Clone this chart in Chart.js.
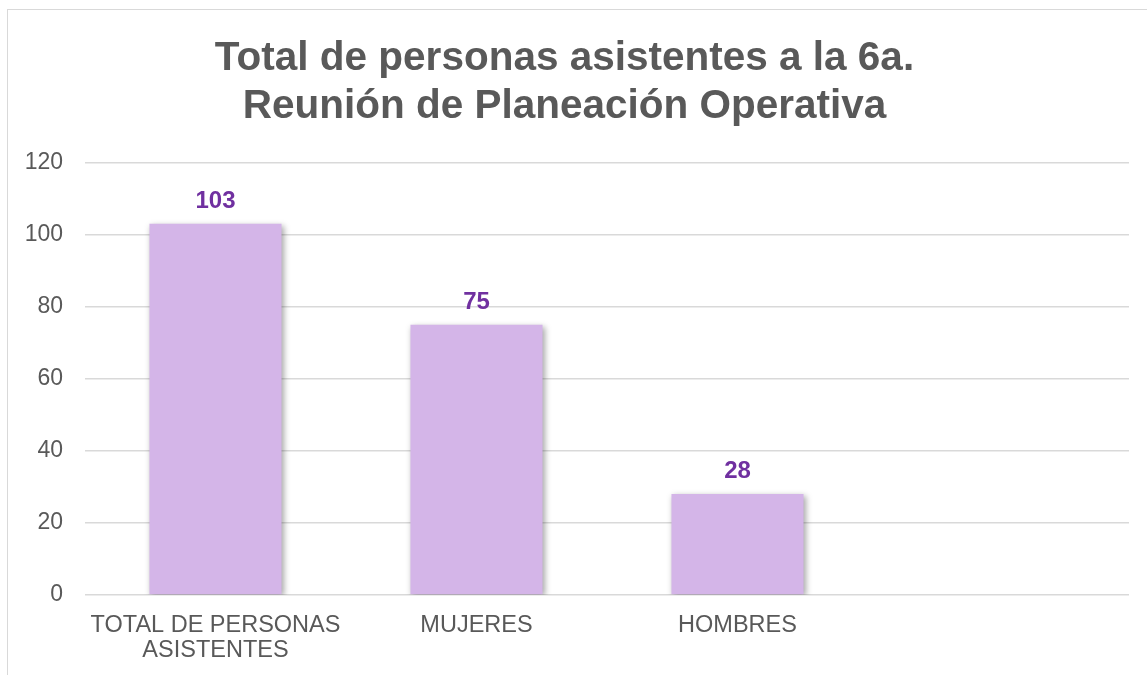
<!DOCTYPE html>
<html>
<head>
<meta charset="utf-8">
<script src="https://cdn.jsdelivr.net/npm/chart.js@4"></script>
<style>
  html, body { margin: 0; padding: 0; background: #fff; overflow: hidden; }
  #wrap { position: relative; width: 1147px; height: 675px; }
  #frame { position: absolute; left: 7px; top: 9px; width: 1160px; height: 700px; border: 1.5px solid #d9d9d9; box-sizing: border-box; }
  #chart { position: absolute; left: 0; top: 0; }
</style>
</head>
<body>
<div id="wrap">
  <div id="frame"></div>
  <canvas id="chart" width="1147" height="675"></canvas>
</div>
<script>
const titleLines = ["Total de personas asistentes a la 6a.", "Reunión de Planeación Operativa"];
const categories = [["TOTAL DE PERSONAS", "ASISTENTES"], "MUJERES", "HOMBRES", ""];
const asistentes = [103, 75, 28, null];
const yTicks = [0, 20, 40, 60, 80, 100, 120];

const barColor = "#d4b5e8";
const labelColor = "#7030a0";
const textColor = "#595959";
const gridColor = "#d9d9d9";
const fontFamily = "'Liberation Sans', Arial, sans-serif";

// soft shadow behind the bars, then value labels on top
const barShadow = {
    id: "barShadow",
    beforeDatasetsDraw(chart) {
        const ctx = chart.ctx;
        ctx.save();
        ctx.shadowColor = "rgba(0, 0, 0, 0.35)";
        ctx.shadowBlur = 6;
        ctx.shadowOffsetX = 2;
        ctx.shadowOffsetY = 2;
    },
    afterDatasetsDraw(chart) {
        const ctx = chart.ctx;
        ctx.restore();
        const meta = chart.getDatasetMeta(0);
        ctx.save();
        ctx.fillStyle = labelColor;
        ctx.font = "bold 24px " + fontFamily;
        ctx.textAlign = "center";
        ctx.textBaseline = "alphabetic";
        meta.data.forEach((bar, i) => {
            const v = chart.data.datasets[0].data[i];
            if (v === null || v === undefined) return;
            ctx.fillText(String(v), bar.x, bar.y - 16);
        });
        ctx.restore();
    },
};

const ctx = document.getElementById("chart").getContext("2d");
const chart = new Chart(ctx, {
    type: "bar",
    data: {
        labels: categories,
        datasets: [
            {
                data: asistentes,
                backgroundColor: barColor,
                borderWidth: 0,
                categoryPercentage: 1,
                barPercentage: 0.506,
            },
        ],
    },
    options: {
        responsive: false,
        animation: false,
        layout: { padding: { left: 0, right: 18, top: 0, bottom: 0 } },
        plugins: {
            legend: { display: false },
            tooltip: { enabled: false },
            title: {
                display: true,
                text: titleLines,
                color: textColor,
                font: { family: fontFamily, size: 40.5, weight: "bold", lineHeight: 1.18 },
                padding: { top: 35, bottom: 32 },
            },
        },
        scales: {
            x: {
                grid: { display: false },
                border: { display: false },
                ticks: {
                    color: textColor,
                    font: { family: fontFamily, size: 23.5, lineHeight: 1.07 },
                    padding: 10,
                    maxRotation: 0,
                    autoSkip: false,
                },
                afterFit(scale) { scale.height = 80; },
            },
            y: {
                min: 0,
                max: 120,
                afterBuildTicks(scale) { scale.ticks = yTicks.map((v) => ({ value: v })); },
                grid: { color: gridColor, lineWidth: 1.5, drawTicks: false },
                border: { display: false },
                ticks: {
                    color: textColor,
                    font: { family: fontFamily, size: 23 },
                    padding: 22,
                },
                afterFit(scale) { scale.width = 85; },
            },
        },
    },
    plugins: [barShadow],
});
</script>
</body>
</html>
